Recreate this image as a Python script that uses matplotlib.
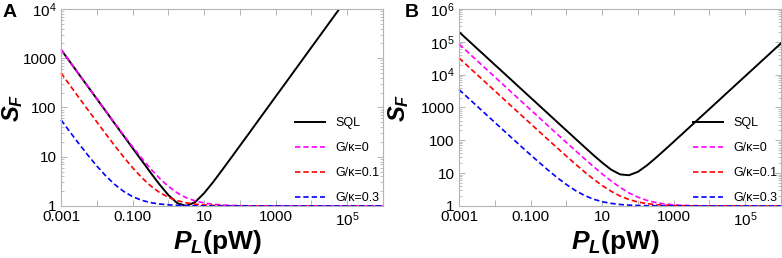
import matplotlib
matplotlib.use('Agg')
import matplotlib.pyplot as plt
from matplotlib.ticker import NullLocator

plt.rcParams['font.family'] = ['Liberation Sans', 'DejaVu Sans']
plt.rcParams['mathtext.fontset'] = 'custom'
plt.rcParams['mathtext.it'] = 'Liberation Sans:italic:bold'
plt.rcParams['mathtext.rm'] = 'Liberation Sans:bold'

# laser power (pW), same sampling for both panels
p_l = [0.001, 0.00178, 0.00316, 0.00562, 0.01, 0.0178, 0.0316, 0.0562,
       0.1, 0.178, 0.316, 0.562, 1, 1.78, 3.16, 5.62, 10, 17.8, 31.6, 56.2,
       100, 178, 316, 562, 1000, 1780, 3160, 5620, 1e4, 1.78e4, 3.16e4,
       5.62e4, 1e5, 1.78e5, 3.16e5, 5.62e5, 1e6]

# panel A
sql_a = [1500, 844, 474, 267, 150, 84.4, 47.4, 26.7, 15.0, 8.47, 4.80, 2.76,
         1.67, 1.14, 1.00, 1.20, 1.82, 3.05, 5.32, 9.40, 16.7, 29.6, 52.7,
         93.7, 167, 296, 527, 937, 1670, 2960, 5270, 9370, 16700, 29600,
         52700, 93700, 167000]
g0_a = [1501, 845, 475, 268, 151, 85.4, 48.4, 27.7, 16.0, 9.44, 5.74, 3.67,
        2.50, 1.84, 1.47, 1.27, 1.15, 1.084, 1.047, 1.027, 1.015, 1.008,
        1.005, 1.003, 1.0015, 1.001, 1.0005, 1.0003, 1.0002,
        1, 1, 1, 1, 1, 1, 1, 1]
g01_a = [501, 282, 159, 89.9, 51.0, 29.1, 16.8, 9.89, 6.00, 3.81, 2.58, 1.89,
         1.50, 1.28, 1.16, 1.089, 1.05, 1.028, 1.016, 1.009, 1.005, 1.003,
         1.0016, 1.0009, 1.0005, 1, 1, 1, 1, 1, 1, 1, 1, 1, 1, 1, 1]
g03_a = [56.0, 31.9, 18.4, 10.8, 6.50, 4.09, 2.74, 1.98, 1.55, 1.31, 1.17,
         1.098, 1.055, 1.031, 1.017, 1.010, 1.0055, 1.003, 1.0017, 1.001,
         1.0006, 1, 1, 1, 1, 1, 1, 1, 1, 1, 1, 1, 1, 1, 1, 1, 1]

# panel B
sql_b = [199750, 112300, 63170, 35520, 19975, 11235, 6317, 3552, 1998, 1123,
         632, 355, 200, 112.5, 63.5, 36.0, 20.9, 12.8, 9.18, 8.64, 11.0, 17.2,
         29.2, 51.2, 90.6, 161, 286, 509, 904, 1608, 2859, 5085, 9043,
         16080, 28590, 50850, 90430]
g0_b = [85000, 47800, 26900, 15100, 8500, 4780, 2690, 1510, 851, 479, 270,
        152, 86.0, 48.8, 27.9, 16.1, 9.50, 5.78, 3.69, 2.51, 1.85, 1.48, 1.27,
        1.15, 1.085, 1.048, 1.027, 1.015, 1.0085, 1.0048, 1.0027, 1.0015,
        1.0009, 1.0005, 1.0003, 1.0002, 1.0001]
g01_b = [32000, 18000, 10100, 5690, 3200, 1800, 1010, 570, 321, 181, 102,
         57.9, 33.0, 19.0, 11.1, 6.69, 4.20, 2.80, 2.01, 1.57, 1.32, 1.18,
         1.10, 1.057, 1.032, 1.018, 1.010, 1.0057, 1.0032, 1.0018, 1.001,
         1.0006, 1.0003, 1.0002, 1.0001, 1.0001, 1]
g03_b = [3500, 1970, 1110, 623, 351, 198, 112, 63.2, 36.0, 20.7, 12.1, 7.22,
         4.50, 2.97, 2.11, 1.62, 1.35, 1.20, 1.11, 1.062, 1.035, 1.020, 1.011,
         1.006, 1.0035, 1.002, 1.0011, 1.0006, 1.0004, 1.0002, 1.0001, 1.0001,
         1, 1, 1, 1, 1]

labels = ['SQL', 'G/\u03ba=0', 'G/\u03ba=0.1', 'G/\u03ba=0.3']
xticks = [1e-3, 1e-2, 1e-1, 1, 10, 100, 1e3, 1e4, 1e5, 1e6]
xlabels = ['0.001', '', '0.100', '', '10', '', '1000', '', r'$\mathregular{10^5}$', '']

frame = '#b4b4b4'
fig = plt.figure(figsize=(7.82, 2.58), dpi=100)
ax_a = fig.add_axes([0.0780, 0.2016, 0.4118, 0.7636])
ax_b = fig.add_axes([0.5870, 0.2016, 0.4118, 0.7636])

panels = [
    (ax_a, [sql_a, g0_a, g01_a, g03_a], 1e4,
     [1, 10, 100, 1000, 1e4], ['1', '10', '100', '1000', r'$\mathregular{10^4}$'], 'A', 0.003, -0.113),
    (ax_b, [sql_b, g0_b, g01_b, g03_b], 1e6,
     [1, 10, 100, 1000, 1e4, 1e5, 1e6],
     ['1', '10', '100', '1000', r'$\mathregular{10^4}$', r'$\mathregular{10^5}$', r'$\mathregular{10^6}$'],
     'B', 0.518, -0.148),
]

for ax, series, ytop, yt, ytl, letter, lx, ylx in panels:
    ax.set_xscale('log')
    ax.set_yscale('log')
    ax.plot(p_l, series[0], color='black', lw=1.4, label=labels[0])
    ax.plot(p_l, series[1], color='#ff00ff', lw=1.2, dashes=(3.2, 1.8), label=labels[1], clip_on=False)
    ax.plot(p_l, series[2], color='#ff0000', lw=1.2, dashes=(3.2, 1.8), label=labels[2], clip_on=False)
    ax.plot(p_l, series[3], color='#0000ff', lw=1.2, dashes=(3.2, 1.8), label=labels[3], clip_on=False)
    ax.set_xlim(1e-3, 1e6)
    ax.set_ylim(1, ytop)
    ax.set_xticks(xticks, xlabels)
    ax.set_yticks(yt, ytl)
    ax.xaxis.set_minor_locator(NullLocator())
    for s in ax.spines.values():
        s.set_color(frame)
        s.set_linewidth(0.8)
    ax.tick_params(which='both', direction='in', top=True, right=True,
                   color=frame, labelsize=11, labelcolor='black')
    ax.tick_params(which='major', length=4, width=0.7, pad=3)
    ax.tick_params(which='minor', length=2, width=0.6)
    ax.set_xlabel(r'$P_L$(pW)', fontsize=19, fontweight='bold')
    ax.xaxis.set_label_coords(0.485, -0.11)
    ax.set_ylabel(r'$S_F$', fontsize=17, fontweight='bold')
    ax.yaxis.set_label_coords(ylx, 0.5)
    ax.legend(loc='upper left', bbox_to_anchor=(0.727, 0.452), frameon=False,
              fontsize=9, handlelength=2.4, handletextpad=0.8,
              labelspacing=1.05, borderpad=0, borderaxespad=0)
    fig.text(lx, 0.95, letter, fontsize=14, fontweight='bold', va='center')

plt.savefig('out.png', dpi=100)
